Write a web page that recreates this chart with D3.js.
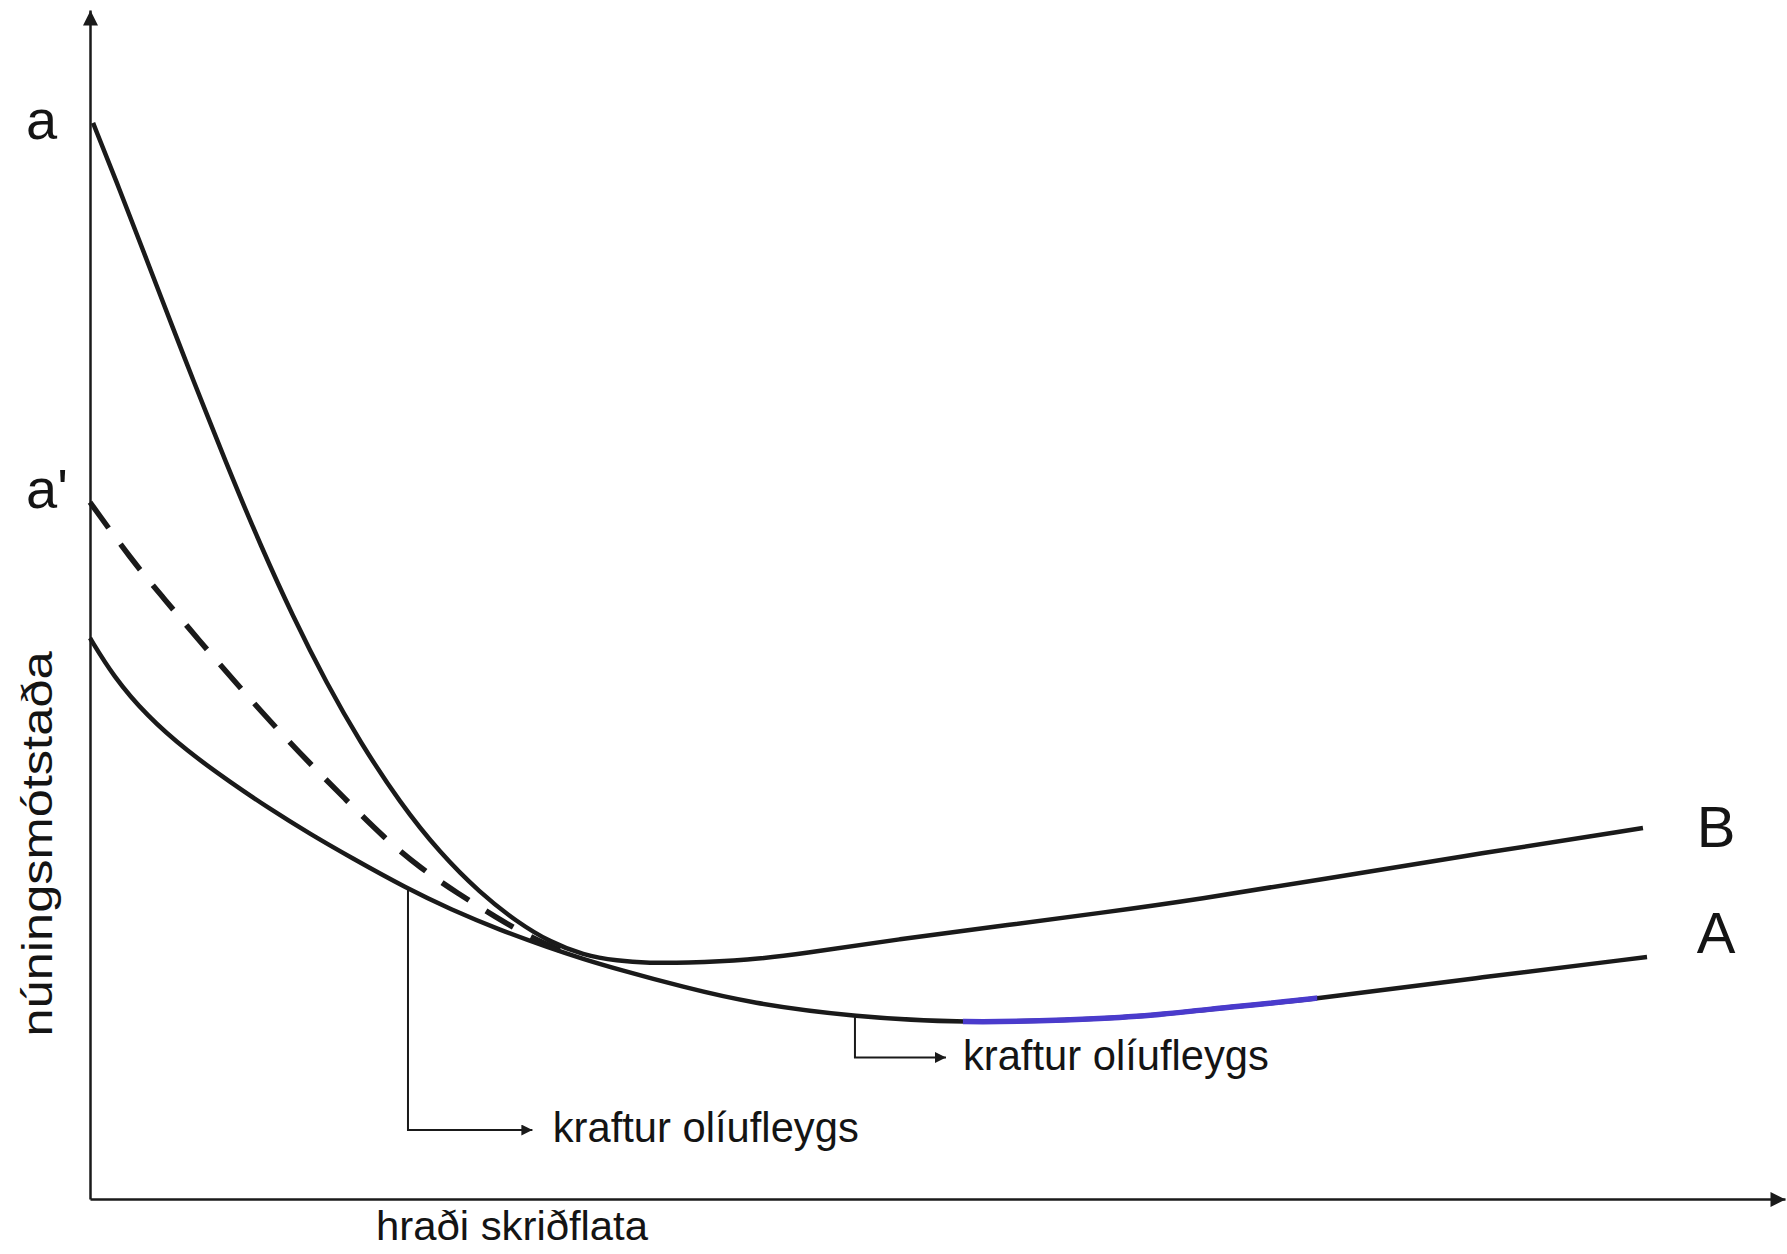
<!DOCTYPE html>
<html>
<head>
<meta charset="utf-8">
<script src="https://cdn.jsdelivr.net/npm/d3@7"></script>
<style>
  html, body { margin: 0; padding: 0; background: #fff; }
  svg { display: block; }
  text { font-family: "Liberation Sans", Arial, sans-serif; fill: #141414; }
</style>
</head>
<body>
<svg id="chart"></svg>
<script>
const w = 1787;
const h = 1254;

// curve values, arbitrary units (speed 0-100, friction 0-100)
const curveB = [[0.18,90.5],[1.77,84.82],[3.13,79.79],[4.13,76.07],[5.72,70.21],[6.67,66.78],[8.44,60.47],
  [10.03,55.09],[11.98,48.95],[13.98,43.31],[15.93,38.44],[18.29,33.31],[20.65,29.10],[23.01,25.74],
  [25.19,23.30],[27.14,21.61],[29.09,20.52],[31.09,20.02],[33.04,19.85],[34.99,19.85],[38.94,20.10],
  [41.89,20.61],[47.79,21.87],[53.69,22.96],[59.59,24.05],[65.49,25.23],[72.39,26.83],[82.18,29.10],
  [91.62,31.20]];

const curveA = [[0,47.18],[1.36,43.99],[3.36,40.62],[5.72,37.68],[8.26,35.07],[10.62,32.80],[12.98,30.70],
  [15.34,28.76],[18.76,26.07],[21.24,24.39],[24.19,22.62],[27.14,21.11],[29.09,20.19],[31.09,19.34],
  [34.99,17.83],[38.94,16.48],[45.13,15.31],[51.74,14.80],[57.64,15.05],[62.54,15.39],[65.49,15.90],
  [72.39,16.82],[82.18,18.67],[91.86,20.35]];

const curveDashed = [[0,58.6],[2.42,53.8],[4.42,50.4],[6.49,46.9],[8.55,43.5],[10.67,40.1],[12.85,36.8],
  [15.09,33.6],[17.33,30.4],[19.52,27.8],[21.70,25.7],[23.94,23.7],[26.00,22.0],[27.77,20.9]];

// pen-highlighted stretch of curve A
const blueRange = [51.5, 72.4];

const startLabels = ["a", "a'"];
const endLabels = ["B", "A"];
const noteText = "kraftur olíufleygs";
const noteAnchors = [18.76, 45.13];   // where the callouts leave curve A
const xTitle = "hraði skriðflata";
const yTitle = "núningsmótstaða";

const svg = d3.select("#chart")
  .attr("width", w)
  .attr("height", h)
  .attr("viewBox", [0, 0, w, h]);

const x = d3.scaleLinear().domain([0, 100]).range([90, 1785]);
const y = d3.scaleLinear().domain([0, 100]).range([1199, 10]);

const defs = svg.append("defs");
function arrow(id, len, wid) {
  defs.append("marker")
    .attr("id", id)
    .attr("viewBox", "0 -5 10 10")
    .attr("refX", 10)
    .attr("refY", 0)
    .attr("markerUnits", "userSpaceOnUse")
    .attr("markerWidth", len)
    .attr("markerHeight", wid)
    .attr("orient", "auto")
    .append("path")
    .attr("d", "M0,-5L10,0L0,5Z")
    .attr("fill", "#1a1a1a");
}
arrow("axisArrow", 23, 15);
arrow("noteArrow", 18, 11);

// axes: domain lines only, no ticks
svg.append("g")
  .attr("transform", `translate(0,${y(0)})`)
  .call(d3.axisBottom(x).tickValues([]).tickSizeOuter(0))
  .select(".domain")
  .attr("stroke", "#1a1a1a")
  .attr("stroke-width", 2.5)
  .attr("marker-end", "url(#axisArrow)");

svg.append("g")
  .attr("transform", `translate(${x(0)},0)`)
  .call(d3.axisLeft(y).tickValues([]).tickSizeOuter(0))
  .select(".domain")
  .attr("stroke", "#1a1a1a")
  .attr("stroke-width", 2.5)
  .attr("marker-end", "url(#axisArrow)");

const line = d3.line()
  .x(d => x(d[0]))
  .y(d => y(d[1]))
  .curve(d3.curveBasis);

svg.append("path")
  .attr("d", line(curveDashed))
  .attr("fill", "none")
  .attr("stroke", "#1a1a1a")
  .attr("stroke-width", 5.5)
  .attr("stroke-dasharray", "32,20");

svg.append("path")
  .attr("d", line(curveB))
  .attr("fill", "none")
  .attr("stroke", "#1a1a1a")
  .attr("stroke-width", 4.5);

svg.append("path")
  .attr("d", line(curveA))
  .attr("fill", "none")
  .attr("stroke", "#1a1a1a")
  .attr("stroke-width", 4.5);

// blue pen over part of A
defs.append("clipPath")
  .attr("id", "blueClip")
  .append("rect")
  .attr("x", x(blueRange[0]))
  .attr("y", 0)
  .attr("width", x(blueRange[1]) - x(blueRange[0]))
  .attr("height", h);

svg.append("path")
  .attr("d", line(curveA))
  .attr("clip-path", "url(#blueClip)")
  .attr("fill", "none")
  .attr("stroke", "#4a3bcc")
  .attr("stroke-width", 5.5);

// value of A at a given speed (linear between read points)
function valueA(sx) {
  for (let i = 0; i < curveA.length - 1; i++) {
    const p = curveA[i], q = curveA[i + 1];
    if (sx >= p[0] && sx <= q[0]) return p[1] + (q[1] - p[1]) * (sx - p[0]) / (q[0] - p[0]);
  }
  return curveA[curveA.length - 1][1];
}

// callouts
const noteLayout = [
  {corner: 5.8, tip: 26.1, tx: 27.3, ty: 4.8},
  {corner: 11.9, tip: 50.5, tx: 51.5, ty: 10.85}
];
noteAnchors.forEach((ax, i) => {
  const n = noteLayout[i];
  svg.append("path")
    .attr("d", `M${x(ax)},${y(valueA(ax))}V${y(n.corner)}H${x(n.tip)}`)
    .attr("fill", "none")
    .attr("stroke", "#1a1a1a")
    .attr("stroke-width", 2)
    .attr("marker-end", "url(#noteArrow)");
  svg.append("text")
    .attr("x", x(n.tx))
    .attr("y", y(n.ty))
    .attr("font-size", 43)
    .attr("textLength", 306)
    .attr("lengthAdjust", "spacingAndGlyphs")
    .text(noteText);
});

// a and a' at the left ends of the curves
const startValues = [curveB[0][1], curveDashed[0][1]];
svg.append("g")
  .selectAll("text")
  .data(startLabels)
  .enter()
  .append("text")
  .attr("x", 26)
  .attr("y", (d, i) => y(startValues[i]) + (i === 0 ? 16 : 6))
  .attr("font-size", 56)
  .text(d => d);

// B and A at the right ends
const endValues = [29.6, 20.7];
svg.append("g")
  .selectAll("text")
  .data(endLabels)
  .enter()
  .append("text")
  .attr("x", x(94.8))
  .attr("y", (d, i) => y(endValues[i]))
  .attr("font-size", 58)
  .text(d => d);

// axis titles
svg.append("text")
  .attr("x", 376)
  .attr("y", 1240)
  .attr("font-size", 41)
  .attr("textLength", 272)
  .attr("lengthAdjust", "spacingAndGlyphs")
  .text(xTitle);

svg.append("text")
  .attr("transform", "translate(52,844) rotate(-90)")
  .attr("text-anchor", "middle")
  .attr("font-size", 43)
  .attr("textLength", 385)
  .attr("lengthAdjust", "spacingAndGlyphs")
  .text(yTitle);
</script>
</body>
</html>
